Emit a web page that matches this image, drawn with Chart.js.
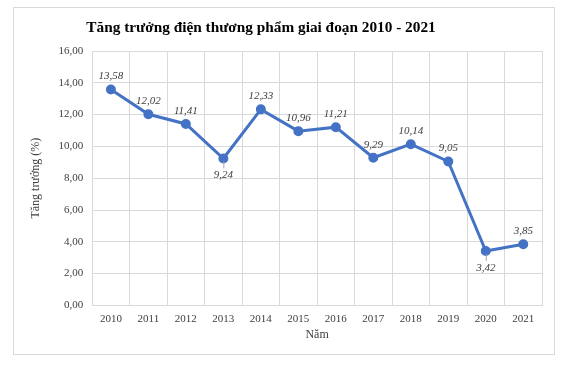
<!DOCTYPE html>
<html><head><meta charset="utf-8">
<script src="https://cdn.jsdelivr.net/npm/chart.js@4/dist/chart.umd.min.js"></script>
<style>html,body{margin:0;padding:0;background:#fff;}#wrap{width:569px;height:365px;position:relative;}</style>
</head><body><div id="wrap"><canvas id="c" width="569" height="365"></canvas></div>
<script>
const years = ['2010','2011','2012','2013','2014','2015','2016','2017','2018','2019','2020','2021'];
const growth = [13.58, 12.02, 11.41, 9.24, 12.33, 10.96, 11.21, 9.29, 10.14, 9.05, 3.42, 3.85];
const labelBelow = [false,false,false,true,false,false,false,false,false,false,true,false];
const titleText = 'Tăng trưởng điện thương phẩm giai đoạn 2010 - 2021';
const fmt = v => v.toFixed(2).replace('.', ',');

const frame = {
  id: 'frame',
  beforeDraw(chart) {
    const ctx = chart.ctx;
    ctx.save();
    ctx.fillStyle = '#fff';
    ctx.fillRect(0, 0, chart.width, chart.height);
    ctx.strokeStyle = '#d9d9d9';
    ctx.lineWidth = 1;
    ctx.strokeRect(13.5, 7.5, 541, 347);
    ctx.font = 'bold 15.3px "Liberation Serif"';
    ctx.fillStyle = '#000';
    ctx.textAlign = 'center';
    ctx.textBaseline = 'middle';
    ctx.fillText(titleText, 261, 28);
    ctx.restore();
  }
};
const dataLabels = {
  id: 'dataLabels',
  afterDatasetsDraw(chart) {
    const ctx = chart.ctx;
    const meta = chart.getDatasetMeta(0);
    ctx.save();
    ctx.font = 'italic 11px "Liberation Serif"';
    ctx.fillStyle = '#404040';
    ctx.textAlign = 'center';
    ctx.textBaseline = 'middle';
    meta.data.forEach((pt, i) => {
      const t = fmt(growth[i]);
      if (labelBelow[i]) {
        ctx.strokeStyle = '#a6a6a6';
        ctx.lineWidth = 1;
        ctx.beginPath();
        ctx.moveTo(pt.x + 0.5, pt.y + 3);
        ctx.lineTo(pt.x + 0.5, pt.y + 10);
        ctx.stroke();
        ctx.fillText(t, pt.x, pt.y + 17);
      } else {
        ctx.fillText(t, pt.x, pt.y - 13);
      }
    });
    ctx.restore();
  }
};

new Chart(document.getElementById('c'), {
  type: 'line',
  data: {
    labels: years,
    datasets: [{
      data: growth,
      borderColor: '#4472C4',
      backgroundColor: '#4472C4',
      borderWidth: 3,
      pointRadius: 3.5,
      pointHoverRadius: 3.5,
      tension: 0
    }]
  },
  options: {
    responsive: false,
    animation: false,
    layout: { padding: { left: 29, right: 27, top: 51, bottom: 23 } },
    plugins: {
      legend: { display: false },
      tooltip: { enabled: false },
      title: { display: false }
    },
    scales: {
      x: {
        offset: true,
        grid: { offset: true, color: '#d9d9d9', drawTicks: false },
        border: { color: '#d9d9d9' },
        ticks: { color: '#404040', font: { family: 'Liberation Serif', size: 11 }, padding: 7, maxRotation: 0 },
        title: { display: true, text: 'Năm', color: '#404040', font: { family: 'Liberation Serif', size: 12 }, padding: { top: -5, bottom: 0 } }
      },
      y: {
        min: 0, max: 16,
        grid: { color: '#d9d9d9', drawTicks: false },
        border: { color: '#d9d9d9' },
        ticks: { stepSize: 2, color: '#404040', font: { family: 'Liberation Serif', size: 11 }, padding: 9, callback: v => fmt(v) },
        title: { display: true, text: 'Tăng trưởng (%)', color: '#404040', font: { family: 'Liberation Serif', size: 12 }, padding: { top: 0, bottom: 6 } }
      }
    }
  },
  plugins: [frame, dataLabels]
});
</script></body></html>
